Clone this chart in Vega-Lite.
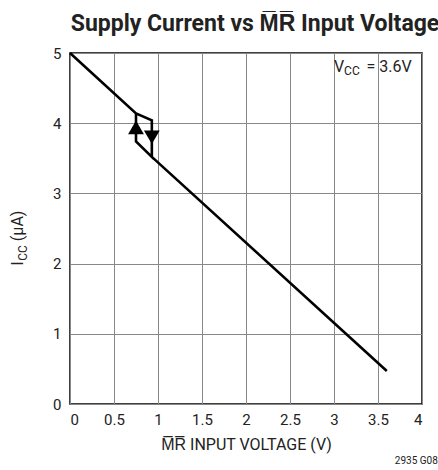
{
  "$schema": "https://vega.github.io/schema/vega-lite/v6.json",
  "autosize": "none",
  "width": 352,
  "height": 351,
  "padding": {"left": 70, "top": 53, "right": 16, "bottom": 66},
  "background": "white",
  "title": {
    "text": "Supply Current vs M\u0305R\u0305 Input Voltage",
    "font": "Roboto, sans-serif",
    "fontSize": 23,
    "fontWeight": "bold",
    "color": "#222",
    "anchor": "middle",
    "dx": 9,
    "offset": 10
  },
  "config": {
    "view": {"stroke": "black", "strokeWidth": 1.5},
    "font": "Roboto, sans-serif"
  },
  "datasets": {
    "curve": [
      {"v": 0, "i": 5.0, "k": 0},
      {"v": 0.75, "i": 4.14, "k": 1},
      {"v": 0.93, "i": 4.04, "k": 2},
      {"v": 0.93, "i": 3.52, "k": 3},
      {"v": 0.75, "i": 3.74, "k": 4},
      {"v": 0.75, "i": 4.14, "k": 5},
      {"v": 0.75, "i": 3.74, "k": 6},
      {"v": 0.93, "i": 3.52, "k": 7},
      {"v": 3.6, "i": 0.47, "k": 8}
    ],
    "arrows": [
      {"v": 0.75, "i": 3.94, "dir": "triangle-up"},
      {"v": 0.93, "i": 3.8, "dir": "triangle-down"}
    ],
    "one": [{}]
  },
  "layer": [
    {
      "data": {"name": "curve"},
      "mark": {"type": "line", "color": "black", "strokeWidth": 2.6, "strokeJoin": "miter"},
      "encoding": {
        "x": {
          "field": "v", "type": "quantitative",
          "scale": {"domain": [0, 4], "nice": false},
          "axis": {
            "values": [0, 0.5, 1, 1.5, 2, 2.5, 3, 3.5, 4],
            "format": "~g",
            "grid": true, "gridColor": "#888", "gridWidth": 1, "gridOpacity": 1,
            "domain": false, "ticks": false,
            "labelFontSize": 15, "labelColor": "#222", "labelPadding": 8,
            "title": "M\u0305R\u0305 INPUT VOLTAGE (V)",
            "titleFontSize": 16, "titleFontWeight": "normal", "titleColor": "#222", "titlePadding": 9
          }
        },
        "y": {
          "field": "i", "type": "quantitative",
          "scale": {"domain": [0, 5], "nice": false},
          "axis": {
            "values": [0, 1, 2, 3, 4, 5],
            "format": "~g",
            "grid": true, "gridColor": "#888", "gridWidth": 1, "gridOpacity": 1,
            "domain": false, "ticks": false,
            "labelFontSize": 15, "labelColor": "#222", "labelPadding": 9,
            "title": null
          }
        },
        "order": {"field": "k"}
      }
    },
    {
      "data": {"name": "arrows"},
      "mark": {"type": "point", "filled": true, "color": "black", "opacity": 1, "size": 250},
      "encoding": {
        "x": {"field": "v", "type": "quantitative"},
        "y": {"field": "i", "type": "quantitative"},
        "shape": {"field": "dir", "type": "nominal", "scale": {"domain": ["triangle-up", "triangle-down"], "range": ["triangle-up", "triangle-down"]}, "legend": null}
      }
    },
    {
      "data": {"name": "one"},
      "mark": {"type": "text", "align": "left", "baseline": "alphabetic", "fontSize": 16, "color": "#222"},
      "encoding": {"x": {"datum": 3.0}, "y": {"datum": 4.73}, "text": {"value": "V"}}
    },
    {
      "data": {"name": "one"},
      "mark": {"type": "text", "align": "left", "baseline": "alphabetic", "fontSize": 12, "color": "#222"},
      "encoding": {"x": {"datum": 3.115}, "y": {"datum": 4.68}, "text": {"value": "CC"}}
    },
    {
      "data": {"name": "one"},
      "mark": {"type": "text", "align": "left", "baseline": "alphabetic", "fontSize": 16, "color": "#222"},
      "encoding": {"x": {"datum": 3.37}, "y": {"datum": 4.73}, "text": {"value": "= 3.6V"}}
    },
    {
      "data": {"name": "one"},
      "mark": {"type": "text", "align": "left", "baseline": "alphabetic", "fontSize": 16, "angle": 270, "color": "#222"},
      "encoding": {"x": {"datum": -0.53}, "y": {"datum": 1.97}, "text": {"value": "I"}}
    },
    {
      "data": {"name": "one"},
      "mark": {"type": "text", "align": "left", "baseline": "alphabetic", "fontSize": 12, "angle": 270, "color": "#222"},
      "encoding": {"x": {"datum": -0.49}, "y": {"datum": 2.04}, "text": {"value": "CC"}}
    },
    {
      "data": {"name": "one"},
      "mark": {"type": "text", "align": "left", "baseline": "alphabetic", "fontSize": 16, "angle": 270, "color": "#222"},
      "encoding": {"x": {"datum": -0.53}, "y": {"datum": 2.32}, "text": {"value": "(µA)"}}
    },
    {
      "data": {"name": "one"},
      "mark": {"type": "text", "align": "right", "baseline": "alphabetic", "fontSize": 10, "color": "#222"},
      "encoding": {"x": {"datum": 4.18}, "y": {"datum": -0.85}, "text": {"value": "2935 G08"}}
    }
  ]
}
